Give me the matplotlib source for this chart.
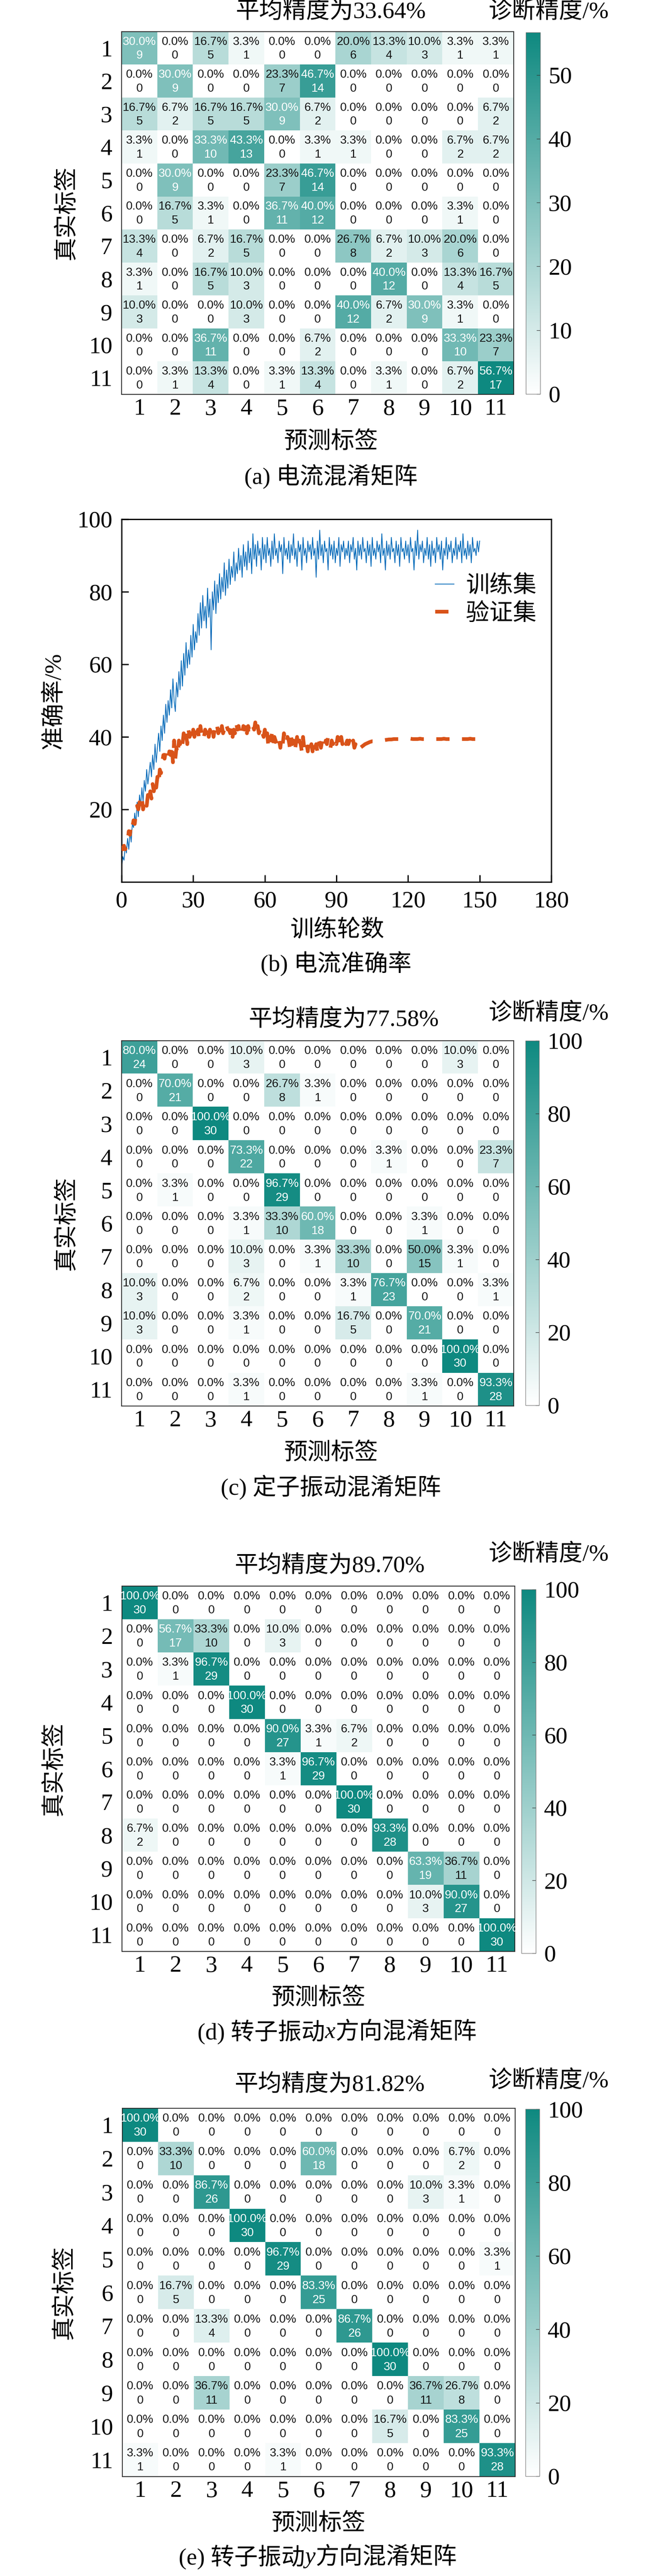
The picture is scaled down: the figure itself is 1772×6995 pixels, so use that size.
import numpy as np
import matplotlib
matplotlib.use('Agg')
import matplotlib.pyplot as plt
from matplotlib.colors import LinearSegmentedColormap
from matplotlib import font_manager as fm

# ---------------- data ----------------
class_labels = [str(k) for k in range(1, 12)]

cm_current = [
    [9, 0, 5, 1, 0, 0, 6, 4, 3, 1, 1],
    [0, 9, 0, 0, 7, 14, 0, 0, 0, 0, 0],
    [5, 2, 5, 5, 9, 2, 0, 0, 0, 0, 2],
    [1, 0, 10, 13, 0, 1, 1, 0, 0, 2, 2],
    [0, 9, 0, 0, 7, 14, 0, 0, 0, 0, 0],
    [0, 5, 1, 0, 11, 12, 0, 0, 0, 1, 0],
    [4, 0, 2, 5, 0, 0, 8, 2, 3, 6, 0],
    [1, 0, 5, 3, 0, 0, 0, 12, 0, 4, 5],
    [3, 0, 0, 3, 0, 0, 12, 2, 9, 1, 0],
    [0, 0, 11, 0, 0, 2, 0, 0, 0, 10, 7],
    [0, 1, 4, 0, 1, 4, 0, 1, 0, 2, 17],
]

cm_stator = [
    [24, 0, 0, 3, 0, 0, 0, 0, 0, 3, 0],
    [0, 21, 0, 0, 8, 1, 0, 0, 0, 0, 0],
    [0, 0, 30, 0, 0, 0, 0, 0, 0, 0, 0],
    [0, 0, 0, 22, 0, 0, 0, 1, 0, 0, 7],
    [0, 1, 0, 0, 29, 0, 0, 0, 0, 0, 0],
    [0, 0, 0, 1, 10, 18, 0, 0, 1, 0, 0],
    [0, 0, 0, 3, 0, 1, 10, 0, 15, 1, 0],
    [3, 0, 0, 2, 0, 0, 1, 23, 0, 0, 1],
    [3, 0, 0, 1, 0, 0, 5, 0, 21, 0, 0],
    [0, 0, 0, 0, 0, 0, 0, 0, 0, 30, 0],
    [0, 0, 0, 1, 0, 0, 0, 0, 1, 0, 28],
]

cm_rotor_x = [
    [30, 0, 0, 0, 0, 0, 0, 0, 0, 0, 0],
    [0, 17, 10, 0, 3, 0, 0, 0, 0, 0, 0],
    [0, 1, 29, 0, 0, 0, 0, 0, 0, 0, 0],
    [0, 0, 0, 30, 0, 0, 0, 0, 0, 0, 0],
    [0, 0, 0, 0, 27, 1, 2, 0, 0, 0, 0],
    [0, 0, 0, 0, 1, 29, 0, 0, 0, 0, 0],
    [0, 0, 0, 0, 0, 0, 30, 0, 0, 0, 0],
    [2, 0, 0, 0, 0, 0, 0, 28, 0, 0, 0],
    [0, 0, 0, 0, 0, 0, 0, 0, 19, 11, 0],
    [0, 0, 0, 0, 0, 0, 0, 0, 3, 27, 0],
    [0, 0, 0, 0, 0, 0, 0, 0, 0, 0, 30],
]

cm_rotor_y = [
    [30, 0, 0, 0, 0, 0, 0, 0, 0, 0, 0],
    [0, 10, 0, 0, 0, 18, 0, 0, 0, 2, 0],
    [0, 0, 26, 0, 0, 0, 0, 0, 3, 1, 0],
    [0, 0, 0, 30, 0, 0, 0, 0, 0, 0, 0],
    [0, 0, 0, 0, 29, 0, 0, 0, 0, 0, 1],
    [0, 5, 0, 0, 0, 25, 0, 0, 0, 0, 0],
    [0, 0, 4, 0, 0, 0, 26, 0, 0, 0, 0],
    [0, 0, 0, 0, 0, 0, 0, 30, 0, 0, 0],
    [0, 0, 11, 0, 0, 0, 0, 0, 11, 8, 0],
    [0, 0, 0, 0, 0, 0, 0, 5, 0, 25, 0],
    [1, 0, 0, 0, 1, 0, 0, 0, 0, 0, 28],
]

# training accuracy (%), every half epoch from 0 to 150
train_acc = [
    4, 7, 6, 10, 8, 12, 9, 14, 11, 16,
    15, 19, 16, 22, 18, 24, 21, 26, 22, 28,
    25, 31, 27, 30, 33, 29, 35, 31, 38, 33,
    37, 41, 36, 43, 39, 46, 41, 49, 44, 50,
    46, 53, 48, 56, 50, 47, 55, 51, 58, 53,
    61, 54, 63, 57, 66, 59, 64, 60, 68, 62,
    71, 64, 69, 66, 74, 68, 77, 70, 79, 72,
    76, 70, 81, 73, 78, 64, 80, 75, 83, 74,
    82, 77, 85, 78, 84, 80, 88, 79, 86, 81,
    89, 82, 87, 84, 91, 83, 88, 85, 92, 86,
    90, 84, 93, 87, 91, 86, 94, 88, 92, 85,
    96, 89, 93, 87, 94, 90, 92, 86, 95, 89,
    93, 88, 95, 90, 92, 87, 94, 89, 96, 90,
    92, 88, 94, 91, 93, 85, 95, 90, 92, 89,
    94, 88, 93, 90, 96, 89, 92, 87, 94, 91,
    93, 86, 95, 90, 92, 88, 94, 91, 93, 89,
    95, 90, 92, 84, 94, 89, 97, 90, 93, 88,
    94, 91, 92, 86, 95, 90, 93, 89, 94, 88,
    92, 90, 95, 87, 93, 91, 94, 89, 92, 90,
    94, 88, 93, 91, 95, 89, 92, 86, 94, 90,
    93, 89, 95, 91, 92, 88, 94, 90, 93, 87,
    95, 90, 92, 89, 94, 91, 93, 88, 96, 90,
    92, 86, 94, 90, 93, 89, 95, 91, 92, 88,
    94, 90, 93, 87, 95, 91, 92, 89, 94, 90,
    93, 88, 95, 91, 92, 86, 94, 90, 97, 89,
    93, 91, 94, 88, 92, 90, 95, 89, 93, 87,
    94, 90, 92, 88, 95, 91, 93, 89, 94, 86,
    92, 90, 95, 89, 93, 91, 94, 88, 92, 90,
    95, 89, 93, 91, 94, 88, 96, 90, 92, 89,
    94, 90, 93, 88, 95, 91, 92, 90, 94, 91,
    94,
]

# validation accuracy (%): every half epoch from 0 to 100, then every epoch 101..150
val_acc_early = [
    10, 9, 10, 9, 10, 11, 14, 13, 16, 15,
    17, 16, 19, 21, 20, 22, 21, 23, 20, 22,
    23, 21, 24, 22, 25, 23, 27, 25, 28, 26,
    29, 27, 31, 30, 33, 35, 34, 36, 35, 34,
    36, 35, 38, 33, 39, 34, 37, 35, 39, 38,
    40, 38, 41, 39, 41, 38, 42, 40, 41, 39,
    42, 40, 43, 41, 42, 39, 43, 41, 42, 40,
    42, 41, 43, 40, 42, 41, 43, 40, 42, 41,
    43, 41, 42, 40, 43, 41, 42, 41, 43, 42,
    42, 41, 43, 40, 42, 41, 44, 42, 43, 41,
    42, 41, 43, 42, 44, 41, 43, 42, 42, 41,
    43, 42, 44, 41, 43, 41, 42, 40, 41, 40,
    42, 39, 41, 37, 40, 39, 41, 38, 40, 39,
    38, 40, 39, 37, 40, 38, 41, 39, 38, 40,
    39, 37, 40, 38, 39, 36, 38, 40, 37, 39,
    38, 36, 40, 37, 39, 38, 36, 39, 37, 38,
    36, 39, 37, 38, 36, 39, 38, 37, 39, 38,
    37, 39, 38, 40, 38, 37, 39, 38, 40, 39,
    38, 40, 39, 37, 40, 38, 39, 40, 38, 39,
    38, 39, 37, 38, 39, 37, 38, 37, 38, 37,
    37,
]
val_acc_late = [
    37.5, 38.0, 38.3, 38.6, 38.8, 38.8, 38.9, 39.0, 39.0, 39.1,
    39.2, 39.3, 39.3, 39.4, 39.4, 39.4, 39.4, 39.5, 39.4, 39.4,
    39.5, 39.4, 39.4, 39.4, 39.5, 39.4, 39.4, 39.4, 39.4, 39.5,
    39.4, 39.4, 39.4, 39.4, 39.5, 39.4, 39.4, 39.4, 39.4, 39.4,
    39.5, 39.4, 39.4, 39.4, 39.4, 39.5, 39.4, 39.4, 39.4, 39.4,
]

epoch_ticks = [0, 30, 60, 90, 120, 150, 180]
acc_ticks = [20, 40, 60, 80, 100]

# ---------------- style ----------------
names = {f.name for f in fm.fontManager.ttflist}
SERIF = 'Liberation Serif' if 'Liberation Serif' in names else 'DejaVu Serif'
SANS = 'Liberation Sans' if 'Liberation Sans' in names else 'DejaVu Sans'
CJK = 'Noto Serif CJK SC' if 'Noto Serif CJK SC' in names else 'Noto Sans CJK SC'
FAM = [SERIF, CJK, 'DejaVu Sans']
plt.rcParams['font.family'] = FAM
FS = 46
plt.rcParams['font.size'] = FS

W, H = 1772, 6995
fig = plt.figure(figsize=(W / 100, H / 100), dpi=100)
cmap = LinearSegmentedColormap.from_list('teal', ['#ffffff', '#0e8980'])


def px_axes(x0, x1, y0, y1):
    return fig.add_axes([x0 / W, 1 - y1 / H, (x1 - x0) / W, (y1 - y0) / H])


def ftext(x, y, s, **kw):
    ha = kw.pop('ha', 'center')
    va = kw.pop('va', 'center')
    fs = kw.pop('fontsize', FS)
    return fig.text(x / W, 1 - y / H, s, ha=ha, va=va, fontsize=fs, **kw)


def mixed(xc, y, parts):
    r = fig.canvas.get_renderer()
    ts, ws = [], []
    for s, st in parts:
        t = ftext(0, y, s, ha='left', style=st)
        ws.append(t.get_window_extent(r).width)
        ts.append(t)
    x = xc - sum(ws) / 2
    for t, w in zip(ts, ws):
        t.set_x(x / W)
        x += w


def draw_cm(counts, mbox, cbox, vmax, cticks):
    c = np.array(counts)
    pct = c / c.sum(axis=1, keepdims=True) * 100
    ax = px_axes(*mbox)
    im = ax.imshow(pct, cmap=cmap, vmin=0, vmax=vmax, aspect='auto',
                   interpolation='nearest')
    n = c.shape[0]
    for i in range(n):
        for j in range(n):
            col = 'white' if pct[i, j] > 0.5 * vmax else '#151515'
            ax.text(j, i - 0.19, f'{pct[i, j]:.1f}%', ha='center', va='center',
                    fontsize=23, family=SANS, color=col)
            ax.text(j, i + 0.23, f'{c[i, j]}', ha='center', va='center',
                    fontsize=23, family=SANS, color=col)
    ax.set_xticks(range(n))
    ax.set_xticklabels(class_labels)
    ax.set_yticks(range(n))
    ax.set_yticklabels(class_labels)
    ax.tick_params(axis='x', length=0, pad=8, labelsize=FS)
    ax.tick_params(axis='y', length=0, pad=18, labelsize=FS)
    for sp in ax.spines.values():
        sp.set_linewidth(1.6)
        sp.set_color('#222222')
    cax = px_axes(*cbox)
    cb = fig.colorbar(im, cax=cax, ticks=cticks)
    cb.outline.set_edgecolor('#777777')
    cb.outline.set_linewidth(1)
    cax.tick_params(direction='in', length=7, width=1, pad=16, labelsize=FS,
                    color='#333333')
    return ax


# ---------------- (a) ----------------
draw_cm(cm_current, (330, 1394, 86, 1071), (1427, 1466, 88, 1070), 17 / 30 * 100,
        [0, 10, 20, 30, 40, 50])
ftext(898, 33, '平均精度为33.64%')
ftext(1488, 33, '诊断精度/%')
ftext(181, 578, '真实标签', rotation=90)
ftext(898, 1202, '预测标签')
ftext(898, 1295, '(a) 电流混淆矩阵')

# ---------------- (b) ----------------
axb = px_axes(330, 1496, 1410, 2395)
train_epochs = np.arange(len(train_acc)) * 0.5
val_epochs = np.concatenate([np.arange(len(val_acc_early)) * 0.5,
                             101 + np.arange(len(val_acc_late))])
val_acc = val_acc_early + val_acc_late
axb.plot(train_epochs, train_acc, color='#0068B8', lw=1.5, label='训练集', zorder=2)
axb.plot(val_epochs, val_acc, color='#D95319', lw=7.2, dashes=(3.6, 3.4),
         dash_capstyle='butt', label='验证集', zorder=3)
axb.set_xlim(0, 180)
axb.set_ylim(0, 100)
axb.set_xticks(epoch_ticks)
axb.set_yticks(acc_ticks)
axb.tick_params(direction='in', length=14, width=2.5, pad=18, labelsize=FS,
                top=False, right=False)
for sp in axb.spines.values():
    sp.set_linewidth(2.5)
leg = axb.legend(loc='upper left', bbox_to_anchor=(0.73, 0.845), frameon=False,
                 handlelength=0.8, handletextpad=0.5, labelspacing=0.25,
                 borderpad=0, borderaxespad=0,
                 prop=fm.FontProperties(family=FAM, size=FS))
ftext(147, 1903, '准确率/%', rotation=90)
ftext(915, 2527, '训练轮数')
ftext(912, 2617, '(b) 电流准确率')

# ---------------- (c) ----------------
draw_cm(cm_stator, (330, 1394, 2826, 3818), (1426, 1463, 2826, 3816), 100,
        [0, 20, 40, 60, 80, 100])
ftext(933, 2770, '平均精度为77.58%')
ftext(1488, 2753, '诊断精度/%')
ftext(181, 3322, '真实标签', rotation=90)
ftext(898, 3948, '预测标签')
ftext(898, 4039, '(c) 定子振动混淆矩阵')

# ---------------- (d) ----------------
draw_cm(cm_rotor_x, (331, 1397, 4307, 5299), (1415, 1454, 4316, 5304), 100,
        [0, 20, 40, 60, 80, 100])
ftext(895, 4253, '平均精度为89.70%')
ftext(1488, 4222, '诊断精度/%')
ftext(147, 4803, '真实标签', rotation=90)
ftext(864, 5428, '预测标签')
mixed(915, 5519, [('(d) 转子振动', 'normal'), ('x', 'italic'), ('方向混淆矩阵', 'normal')])

# ---------------- (e) ----------------
draw_cm(cm_rotor_y, (332, 1398, 5725, 6725), (1426, 1464, 5727, 6724), 100,
        [0, 20, 40, 60, 80, 100])
ftext(895, 5662, '平均精度为81.82%')
ftext(1488, 5652, '诊断精度/%')
ftext(175, 6225, '真实标签', rotation=90)
ftext(864, 6855, '预测标签')
mixed(862, 6945, [('(e) 转子振动', 'normal'), ('y', 'italic'), ('方向混淆矩阵', 'normal')])

fig.savefig('out.png', dpi=100)
